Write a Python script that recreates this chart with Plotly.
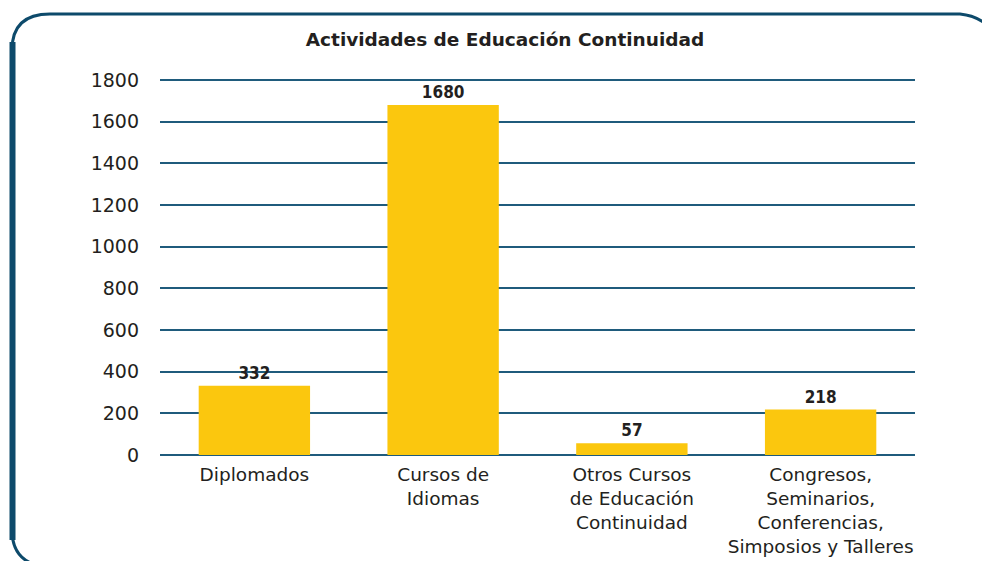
import plotly.graph_objects as go

categories = ["Diplomados", "Cursos de<br>Idiomas", "Otros Cursos<br>de Educación<br>Continuidad",
              "Congresos,<br>Seminarios,<br>Conferencias,<br>Simposios y Talleres"]
values = [332, 1680, 57, 218]
y_ticks = [0, 200, 400, 600, 800, 1000, 1200, 1400, 1600, 1800]
title = "Actividades de Educación Continuidad"

W, H = 982, 561
# plot area padded by 5px above and below the 0..1800 span so edge gridlines are drawn
L, R, T, B = 160, 67, 75, 101
PW, PH = W - L - R, H - T - B
PAD = 5 * 1800 / 375

def px(x):
    return (x - L) / PW

def py(y):
    return (H - B - y) / PH

fig = go.Figure(go.Bar(
    x=categories, y=values,
    marker=dict(color="#FBC70E", line=dict(width=0)),
    text=[str(v) for v in values], textposition="outside",
    textfont=dict(family="DejaVu Sans Condensed, DejaVu Sans", size=17, color="#231f20", weight="bold"),
    cliponaxis=False,
))

frame_path = (f"M {px(40)},{py(566)} Q {px(12)},{py(560)} {px(12)},{py(530)} "
              f"L {px(12)},{py(50)} Q {px(12)},{py(14)} {px(50)},{py(14)} "
              f"L {px(960)},{py(14)} Q {px(980)},{py(16)} {px(992)},{py(30)}")

fig.update_layout(
    width=W, height=H,
    margin=dict(l=L, r=R, t=T, b=B, autoexpand=False),
    paper_bgcolor="white", plot_bgcolor="white",
    bargap=0.41,
    showlegend=False,
    title=dict(text=title, x=(505) / W, xanchor="center", y=1 - 40 / H, yanchor="middle",
               font=dict(family="DejaVu Sans", size=18.5, color="#231f20", weight="bold")),
    xaxis=dict(showgrid=False, showline=False, zeroline=False, ticks="",
               tickfont=dict(family="DejaVu Sans", size=18.5, color="#231f20"),
               ticklabelstandoff=1),
    yaxis=dict(range=[-PAD, 1800 + PAD], tickvals=y_ticks, showgrid=True, gridcolor="#1f5b7c", gridwidth=2,
               zeroline=False, showline=False, ticks="",
               tickfont=dict(family="DejaVu Sans", size=19, color="#231f20"),
               ticklabelstandoff=20),
    shapes=[
        dict(type="path", path=frame_path, xref="paper", yref="paper",
             line=dict(color="#0d4a6b", width=3), layer="above"),
        dict(type="line", xref="paper", yref="paper", x0=px(12.5), x1=px(12.5), y0=py(540), y1=py(42),
             line=dict(color="#0d4a6b", width=6)),
    ],
)

fig.write_html("out.html", config={"displayModeBar": False},
               post_script="document.body.style.margin='0px';")
